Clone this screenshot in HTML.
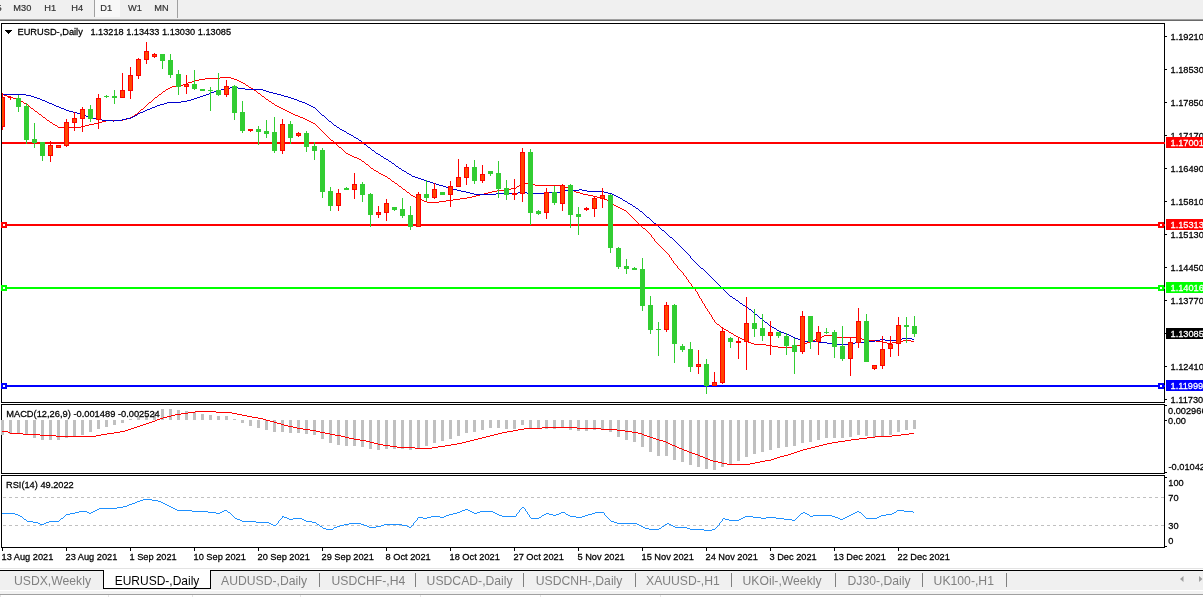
<!DOCTYPE html><html><head><meta charset="utf-8"><title>EURUSD-,Daily</title>
<style>html,body{margin:0;padding:0;background:#fff;overflow:hidden}svg{display:block}text{font-family:"Liberation Sans",sans-serif;}.t{font-size:9.25px;fill:#000;stroke:#000;stroke-width:.25px}.tb{font-size:9.25px;fill:#333;stroke:#333;stroke-width:.2px}.tab{font-size:12.2px;fill:#808080}.w{font-size:9.25px;fill:#fff;stroke:#fff;stroke-width:.25px}</style></head><body>
<svg width="1203" height="597" viewBox="0 0 1203 597">
<rect x="0" y="0" width="1203" height="597" fill="#fff"/>
<g shape-rendering="crispEdges">
<rect x="0" y="0" width="1203" height="19" fill="#f0f0f0"/>
<rect x="0" y="19" width="1203" height="1" fill="#a0a0a0"/>
<rect x="0" y="20" width="1203" height="1" fill="#696969"/>
<rect x="95" y="0" width="25" height="17" fill="#f8f8f8"/>
<rect x="94" y="0" width="1" height="17" fill="#a0a0a0"/>
<rect x="177" y="0" width="1" height="18" fill="#a0a0a0"/>
</g>
<text class="tb" transform="translate(-3.5 10.8) scale(1 1.07)">5</text>
<text class="tb" transform="translate(13.3 10.8) scale(1 1.07)">M30</text>
<text class="tb" transform="translate(44.3 10.8) scale(1 1.07)">H1</text>
<text class="tb" transform="translate(71.3 10.8) scale(1 1.07)">H4</text>
<text class="tb" transform="translate(100.3 10.8) scale(1 1.07)">D1</text>
<text class="tb" transform="translate(128 10.8) scale(1 1.07)">W1</text>
<text class="tb" transform="translate(154.3 10.8) scale(1 1.07)">MN</text>
<g shape-rendering="crispEdges">
<rect x="1" y="23" width="1" height="380" fill="#000"/>
<rect x="1" y="23" width="1164" height="1" fill="#000"/>
<rect x="1" y="402" width="1164" height="1" fill="#000"/>
<rect x="1164" y="23" width="1" height="380" fill="#000"/>
<rect x="1" y="404" width="1" height="70" fill="#000"/>
<rect x="1" y="404" width="1164" height="1" fill="#000"/>
<rect x="1" y="473" width="1164" height="1" fill="#000"/>
<rect x="1164" y="404" width="1" height="70" fill="#000"/>
<rect x="1" y="475" width="1" height="73" fill="#000"/>
<rect x="1" y="475" width="1164" height="1" fill="#000"/>
<rect x="1" y="547" width="1164" height="1" fill="#000"/>
<rect x="1164" y="475" width="1" height="73" fill="#000"/>
</g>
<clipPath id="cm"><rect x="2" y="24" width="1162" height="378"/></clipPath>
<g clip-path="url(#cm)">
<path d="M0 94h4v1h-4zM4 95h3v1h-3zM7 96h3v1h-3zM10 97h3v1h-3zM13 98h3v1h-3zM16 99h3v1h-3zM19 100h2v1h-2zM21 101h2v1h-2zM23 102h1v1h-1zM24 103h2v1h-2zM26 104h2v1h-2zM28 105h1v1h-1zM29 106h1v1h-1zM30 107h1v1h-1zM31 108h2v1h-2zM33 109h1v1h-1zM34 110h1v1h-1zM35 111h2v1h-2zM37 112h1v1h-1zM38 113h1v1h-1zM39 114h2v1h-2zM41 115h1v1h-1zM42 116h1v1h-1zM43 117h2v1h-2zM45 118h1v1h-1zM46 119h1v1h-1zM47 120h2v1h-2zM49 121h1v1h-1zM50 122h2v1h-2zM52 123h1v1h-1zM53 124h2v1h-2zM55 125h2v1h-2zM57 126h1v1h-1zM58 127h23v1h-23zM81 126h4v1h-4zM85 125h4v1h-4zM89 124h5v1h-5zM94 123h5v1h-5zM99 122h3v1h-3zM102 121h4v1h-4zM106 120h17v1h-17zM123 119h4v1h-4zM127 118h3v1h-3zM130 117h2v1h-2zM132 116h2v1h-2zM134 115h1v1h-1zM135 114h2v1h-2zM137 113h1v1h-1zM138 112h1v1h-1zM139 111h1v1h-1zM140 110h1v1h-1zM141 109h2v1h-2zM143 108h1v1h-1zM144 107h1v1h-1zM145 106h1v1h-1zM146 105h1v1h-1zM147 104h1v1h-1zM148 103h1v1h-1zM149 102h2v1h-2zM151 101h1v1h-1zM152 100h1v1h-1zM153 99h1v1h-1zM154 98h1v1h-1zM155 97h2v1h-2zM157 96h1v1h-1zM158 95h1v1h-1zM159 94h2v1h-2zM161 93h1v1h-1zM162 92h1v1h-1zM163 91h2v1h-2zM165 90h1v1h-1zM166 89h2v1h-2zM168 88h2v1h-2zM170 87h2v1h-2zM172 86h7v1h-7zM179 85h4v1h-4zM183 84h3v1h-3zM186 83h2v1h-2zM188 82h4v1h-4zM192 81h3v1h-3zM195 80h4v1h-4zM199 79h6v1h-6zM205 78h15v1h-15zM220 77h11v1h-11zM231 78h3v1h-3zM234 79h3v1h-3zM237 80h2v1h-2zM239 81h2v1h-2zM241 82h2v1h-2zM243 83h2v1h-2zM245 84h1v1h-1zM246 85h2v1h-2zM248 86h1v1h-1zM249 87h2v1h-2zM251 88h2v1h-2zM253 89h1v1h-1zM254 90h2v1h-2zM256 91h1v1h-1zM257 92h1v1h-1zM258 93h2v1h-2zM260 94h1v1h-1zM261 95h1v1h-1zM262 96h2v1h-2zM264 97h1v1h-1zM265 98h1v1h-1zM266 99h2v1h-2zM268 100h1v1h-1zM269 101h2v1h-2zM271 102h1v1h-1zM272 103h2v1h-2zM274 104h1v1h-1zM275 105h2v1h-2zM277 106h2v1h-2zM279 107h2v1h-2zM281 108h2v1h-2zM283 109h2v1h-2zM285 110h2v1h-2zM287 111h2v1h-2zM289 112h2v1h-2zM291 113h2v1h-2zM293 114h2v1h-2zM295 115h3v1h-3zM298 116h2v1h-2zM300 117h3v1h-3zM303 118h2v1h-2zM305 119h2v1h-2zM307 120h2v1h-2zM309 121h2v1h-2zM311 122h2v1h-2zM313 123h2v1h-2zM315 124h1v1h-1zM316 125h1v1h-1zM317 126h1v1h-1zM318 127h1v1h-1zM319 128h1v1h-1zM320 129h1v1h-1zM321 130h1v1h-1zM322 131h1v1h-1zM323 132h1v1h-1zM324 133h1v1h-1zM325 134h1v1h-1zM326 135h1v1h-1zM327 136h1v1h-1zM328 137h1v1h-1zM329 138h1v1h-1zM330 139h1v1h-1zM331 140h2v1h-2zM333 141h1v1h-1zM334 142h1v1h-1zM335 143h1v1h-1zM336 144h1v1h-1zM337 145h1v1h-1zM338 146h1v1h-1zM339 147h2v1h-2zM341 148h1v1h-1zM342 149h1v1h-1zM343 150h1v1h-1zM344 151h1v1h-1zM345 152h1v1h-1zM346 153h2v1h-2zM348 154h2v1h-2zM350 155h2v1h-2zM352 156h2v1h-2zM354 157h3v1h-3zM357 158h2v1h-2zM359 159h2v1h-2zM361 160h1v1h-1zM362 161h2v1h-2zM364 162h1v1h-1zM365 163h1v1h-1zM366 164h2v1h-2zM368 165h1v1h-1zM369 166h1v1h-1zM370 167h1v1h-1zM371 168h2v1h-2zM373 169h1v1h-1zM374 170h2v1h-2zM376 171h2v1h-2zM378 172h1v1h-1zM379 173h2v1h-2zM381 174h2v1h-2zM383 175h2v1h-2zM385 176h2v1h-2zM387 177h1v1h-1zM388 178h2v1h-2zM390 179h1v1h-1zM391 180h1v1h-1zM392 181h2v1h-2zM394 182h1v1h-1zM395 183h2v1h-2zM397 184h1v1h-1zM398 185h1v1h-1zM399 186h2v1h-2zM401 187h1v1h-1zM402 188h1v1h-1zM403 189h2v1h-2zM405 190h1v1h-1zM406 191h1v1h-1zM407 192h2v1h-2zM409 193h1v1h-1zM410 194h1v1h-1zM411 195h2v1h-2zM413 196h2v1h-2zM415 197h2v1h-2zM417 198h3v1h-3zM420 199h2v1h-2zM422 200h2v1h-2zM424 201h3v1h-3zM427 202h12v1h-12zM439 201h7v1h-7zM446 200h7v1h-7zM453 199h7v1h-7zM460 198h7v1h-7zM467 197h5v1h-5zM472 196h4v1h-4zM476 195h4v1h-4zM480 194h4v1h-4zM484 193h4v1h-4zM488 192h4v1h-4zM492 191h5v1h-5zM497 190h7v1h-7zM504 189h7v1h-7zM511 188h5v1h-5zM516 187h1v1h-1zM517 186h2v1h-2zM519 185h1v1h-1zM520 184h4v1h-4zM524 183h5v1h-5zM529 184h6v1h-6zM535 185h26v1h-26zM561 186h4v1h-4zM565 187h4v1h-4zM569 188h2v1h-2zM571 189h2v1h-2zM573 190h1v1h-1zM574 191h2v1h-2zM576 192h4v1h-4zM580 193h3v1h-3zM583 194h5v1h-5zM588 195h5v1h-5zM593 196h4v1h-4zM597 197h4v1h-4zM601 198h3v1h-3zM604 199h3v1h-3zM607 200h1v1h-1zM608 201h2v1h-2zM610 202h1v1h-1zM611 203h2v1h-2zM613 204h1v1h-1zM614 205h2v1h-2zM616 206h2v1h-2zM618 207h2v1h-2zM620 208h2v1h-2zM622 209h2v1h-2zM624 210h2v1h-2zM626 211h1v1h-1zM627 212h1v1h-1zM628 213h1v1h-1zM629 214h1v1h-1zM630 215h1v1h-1zM631 216h1v1h-1zM632 217h1v1h-1zM633 218h1v1h-1zM634 219h1v1h-1zM635 220h1v1h-1zM636 221h1v1h-1zM637 222h1v1h-1zM638 223h1v1h-1zM639 224h1v1h-1zM640 225h1v1h-1zM641 226h1v1h-1zM642 227h1v1h-1zM643 228h2v1h-2zM645 229h1v1h-1zM646 230h1v1h-1zM647 231h1v1h-1zM648 232h1v1h-1zM649 233h1v1h-1zM650 234h1v1h-1zM651 235h1v2h-1zM652 237h1v1h-1zM653 238h1v1h-1zM654 239h1v2h-1zM655 241h1v1h-1zM656 242h1v1h-1zM657 243h1v1h-1zM658 244h1v1h-1zM659 245h1v1h-1zM660 246h1v1h-1zM661 247h1v1h-1zM662 248h1v1h-1zM663 249h1v1h-1zM664 250h1v1h-1zM665 251h1v1h-1zM666 252h1v1h-1zM667 253h1v1h-1zM668 254h1v1h-1zM669 255h1v2h-1zM670 257h1v1h-1zM671 258h1v2h-1zM672 260h1v1h-1zM673 261h1v2h-1zM674 263h1v1h-1zM675 264h1v1h-1zM676 265h1v1h-1zM677 266h1v2h-1zM678 268h1v1h-1zM679 269h1v1h-1zM680 270h1v1h-1zM681 271h1v1h-1zM682 272h1v1h-1zM683 273h1v2h-1zM684 275h1v1h-1zM685 276h1v1h-1zM686 277h1v2h-1zM687 279h1v1h-1zM688 280h1v2h-1zM689 282h1v1h-1zM690 283h1v1h-1zM691 284h1v2h-1zM692 286h1v1h-1zM693 287h1v1h-1zM694 288h1v1h-1zM695 289h1v2h-1zM696 291h1v1h-1zM697 292h1v2h-1zM698 294h1v2h-1zM699 296h1v2h-1zM700 298h1v1h-1zM701 299h1v2h-1zM702 301h1v2h-1zM703 303h1v1h-1zM704 304h1v2h-1zM705 306h1v2h-1zM706 308h1v1h-1zM707 309h1v2h-1zM708 311h1v1h-1zM709 312h1v2h-1zM710 314h1v1h-1zM711 315h1v2h-1zM712 317h1v2h-1zM713 319h1v1h-1zM714 320h1v2h-1zM715 322h1v1h-1zM716 323h1v1h-1zM717 324h2v1h-2zM719 325h1v1h-1zM720 326h1v1h-1zM721 327h2v1h-2zM723 328h1v1h-1zM724 329h2v1h-2zM726 330h2v1h-2zM728 331h1v1h-1zM729 332h2v1h-2zM731 333h2v1h-2zM733 334h1v1h-1zM734 335h2v1h-2zM736 336h2v1h-2zM738 337h2v1h-2zM740 338h2v1h-2zM742 339h2v1h-2zM744 340h2v1h-2zM746 341h2v1h-2zM748 342h3v1h-3zM751 343h3v1h-3zM754 344h12v1h-12zM766 345h6v1h-6zM772 346h6v1h-6zM778 347h15v1h-15zM793 346h4v1h-4zM797 345h4v1h-4zM801 344h3v1h-3zM804 343h3v1h-3zM807 342h3v1h-3zM810 341h2v1h-2zM812 340h3v1h-3zM815 339h2v1h-2zM817 338h2v1h-2zM819 337h3v1h-3zM822 336h2v1h-2zM824 335h8v1h-8zM832 336h5v1h-5zM837 337h21v1h-21zM858 338h4v1h-4zM862 339h7v1h-7zM869 340h7v1h-7zM876 341h6v1h-6zM882 342h5v1h-5zM887 343h5v1h-5zM892 342h8v1h-8zM900 341h3v1h-3zM903 340h8v1h-8zM911 341h3v1h-3z" fill="#ff0000" shape-rendering="crispEdges"/>
<path d="M0 94h26v1h-26zM26 95h5v1h-5zM31 96h3v1h-3zM34 97h3v1h-3zM37 98h3v1h-3zM40 99h2v1h-2zM42 100h3v1h-3zM45 101h2v1h-2zM47 102h2v1h-2zM49 103h3v1h-3zM52 104h2v1h-2zM54 105h2v1h-2zM56 106h3v1h-3zM59 107h2v1h-2zM61 108h3v1h-3zM64 109h2v1h-2zM66 110h3v1h-3zM69 111h4v1h-4zM73 112h4v1h-4zM77 113h3v1h-3zM80 114h3v1h-3zM83 115h3v1h-3zM86 116h2v1h-2zM88 117h4v1h-4zM92 118h4v1h-4zM96 119h6v1h-6zM102 120h11v1h-11zM113 121h1v1h-1zM114 120h8v1h-8zM122 119h4v1h-4zM126 118h5v1h-5zM131 117h2v1h-2zM133 116h2v1h-2zM135 115h2v1h-2zM137 114h1v1h-1zM138 113h2v1h-2zM140 112h3v1h-3zM143 111h2v1h-2zM145 110h2v1h-2zM147 109h3v1h-3zM150 108h2v1h-2zM152 107h3v1h-3zM155 106h2v1h-2zM157 105h3v1h-3zM160 104h4v1h-4zM164 103h3v1h-3zM167 102h14v1h-14zM181 101h6v1h-6zM187 100h4v1h-4zM191 99h3v1h-3zM194 98h3v1h-3zM197 97h3v1h-3zM200 96h3v1h-3zM203 95h3v1h-3zM206 94h3v1h-3zM209 93h2v1h-2zM211 92h3v1h-3zM214 91h2v1h-2zM216 90h5v1h-5zM221 89h5v1h-5zM226 88h4v1h-4zM230 87h8v1h-8zM238 88h7v1h-7zM245 89h18v1h-18zM263 90h3v1h-3zM266 91h3v1h-3zM269 92h4v1h-4zM273 93h4v1h-4zM277 94h4v1h-4zM281 95h3v1h-3zM284 96h4v1h-4zM288 97h3v1h-3zM291 98h3v1h-3zM294 99h3v1h-3zM297 100h2v1h-2zM299 101h3v1h-3zM302 102h3v1h-3zM305 103h2v1h-2zM307 104h2v1h-2zM309 105h2v1h-2zM311 106h2v1h-2zM313 107h2v1h-2zM315 108h1v1h-1zM316 109h1v1h-1zM317 110h1v1h-1zM318 111h1v1h-1zM319 112h1v1h-1zM320 113h1v1h-1zM321 114h1v1h-1zM322 115h2v1h-2zM324 116h1v1h-1zM325 117h1v1h-1zM326 118h1v1h-1zM327 119h1v1h-1zM328 120h1v1h-1zM329 121h2v1h-2zM331 122h1v1h-1zM332 123h1v1h-1zM333 124h1v1h-1zM334 125h2v1h-2zM336 126h1v1h-1zM337 127h2v1h-2zM339 128h1v1h-1zM340 129h2v1h-2zM342 130h2v1h-2zM344 131h2v1h-2zM346 132h1v1h-1zM347 133h2v1h-2zM349 134h2v1h-2zM351 135h2v1h-2zM353 136h1v1h-1zM354 137h2v1h-2zM356 138h2v1h-2zM358 139h1v1h-1zM359 140h2v1h-2zM361 141h1v1h-1zM362 142h1v1h-1zM363 143h1v1h-1zM364 144h2v1h-2zM366 145h1v1h-1zM367 146h1v1h-1zM368 147h2v1h-2zM370 148h1v1h-1zM371 149h1v1h-1zM372 150h2v1h-2zM374 151h1v1h-1zM375 152h1v1h-1zM376 153h2v1h-2zM378 154h2v1h-2zM380 155h1v1h-1zM381 156h2v1h-2zM383 157h1v1h-1zM384 158h2v1h-2zM386 159h2v1h-2zM388 160h1v1h-1zM389 161h2v1h-2zM391 162h1v1h-1zM392 163h2v1h-2zM394 164h1v1h-1zM395 165h1v1h-1zM396 166h2v1h-2zM398 167h1v1h-1zM399 168h2v1h-2zM401 169h1v1h-1zM402 170h2v1h-2zM404 171h2v1h-2zM406 172h1v1h-1zM407 173h2v1h-2zM409 174h2v1h-2zM411 175h1v1h-1zM412 176h3v1h-3zM415 177h3v1h-3zM418 178h3v1h-3zM421 179h3v1h-3zM424 180h3v1h-3zM427 181h3v1h-3zM430 182h3v1h-3zM433 183h3v1h-3zM436 184h3v1h-3zM439 185h4v1h-4zM443 186h3v1h-3zM446 187h4v1h-4zM450 188h3v1h-3zM453 189h4v1h-4zM457 190h4v1h-4zM461 191h5v1h-5zM466 192h4v1h-4zM470 193h4v1h-4zM474 194h22v1h-22zM496 193h22v1h-22zM518 192h9v1h-9zM527 193h17v1h-17zM544 192h17v1h-17zM561 191h4v1h-4zM565 190h14v1h-14zM579 189h3v1h-3zM582 190h5v1h-5zM587 191h17v1h-17zM604 192h4v1h-4zM608 193h4v1h-4zM612 194h2v1h-2zM614 195h2v1h-2zM616 196h2v1h-2zM618 197h2v1h-2zM620 198h2v1h-2zM622 199h1v1h-1zM623 200h2v1h-2zM625 201h2v1h-2zM627 202h1v1h-1zM628 203h2v1h-2zM630 204h2v1h-2zM632 205h1v1h-1zM633 206h2v1h-2zM635 207h1v1h-1zM636 208h2v1h-2zM638 209h1v1h-1zM639 210h1v1h-1zM640 211h2v1h-2zM642 212h1v1h-1zM643 213h1v1h-1zM644 214h1v1h-1zM645 215h1v1h-1zM646 216h1v1h-1zM647 217h2v1h-2zM649 218h1v1h-1zM650 219h1v1h-1zM651 220h1v1h-1zM652 221h1v1h-1zM653 222h1v1h-1zM654 223h2v1h-2zM656 224h1v1h-1zM657 225h1v1h-1zM658 226h1v1h-1zM659 227h1v1h-1zM660 228h1v1h-1zM661 229h1v1h-1zM662 230h2v1h-2zM664 231h1v1h-1zM665 232h1v1h-1zM666 233h1v1h-1zM667 234h1v1h-1zM668 235h1v1h-1zM669 236h1v1h-1zM670 237h2v1h-2zM672 238h1v1h-1zM673 239h1v1h-1zM674 240h1v1h-1zM675 241h1v1h-1zM676 242h1v1h-1zM677 243h1v1h-1zM678 244h1v1h-1zM679 245h1v1h-1zM680 246h1v1h-1zM681 247h1v1h-1zM682 248h1v1h-1zM683 249h1v1h-1zM684 250h1v1h-1zM685 251h1v1h-1zM686 252h1v1h-1zM687 253h1v1h-1zM688 254h1v1h-1zM689 255h1v1h-1zM690 256h1v2h-1zM691 258h1v1h-1zM692 259h1v1h-1zM693 260h1v1h-1zM694 261h1v1h-1zM695 262h1v1h-1zM696 263h1v1h-1zM697 264h1v1h-1zM698 265h1v1h-1zM699 266h1v1h-1zM700 267h1v1h-1zM701 268h2v1h-2zM703 269h1v1h-1zM704 270h1v1h-1zM705 271h1v1h-1zM706 272h1v1h-1zM707 273h1v1h-1zM708 274h1v1h-1zM709 275h1v1h-1zM710 276h1v1h-1zM711 277h1v1h-1zM712 278h1v1h-1zM713 279h1v1h-1zM714 280h1v1h-1zM715 281h1v1h-1zM716 282h1v1h-1zM717 283h1v1h-1zM718 284h1v1h-1zM719 285h1v1h-1zM720 286h1v1h-1zM721 287h1v1h-1zM722 288h1v1h-1zM723 289h1v1h-1zM724 290h1v1h-1zM725 291h1v1h-1zM726 292h1v1h-1zM727 293h1v1h-1zM728 294h1v1h-1zM729 295h1v1h-1zM730 296h2v1h-2zM732 297h1v1h-1zM733 298h2v1h-2zM735 299h1v1h-1zM736 300h2v1h-2zM738 301h1v1h-1zM739 302h1v1h-1zM740 303h2v1h-2zM742 304h1v1h-1zM743 305h2v1h-2zM745 306h1v1h-1zM746 307h2v1h-2zM748 308h1v1h-1zM749 309h2v1h-2zM751 310h1v1h-1zM752 311h1v1h-1zM753 312h1v1h-1zM754 313h1v1h-1zM755 314h2v1h-2zM757 315h1v1h-1zM758 316h1v1h-1zM759 317h1v1h-1zM760 318h2v1h-2zM762 319h1v1h-1zM763 320h1v1h-1zM764 321h1v1h-1zM765 322h2v1h-2zM767 323h1v1h-1zM768 324h1v1h-1zM769 325h1v1h-1zM770 326h2v1h-2zM772 327h2v1h-2zM774 328h2v1h-2zM776 329h1v1h-1zM777 330h2v1h-2zM779 331h2v1h-2zM781 332h3v1h-3zM784 333h3v1h-3zM787 334h2v1h-2zM789 335h2v1h-2zM791 336h2v1h-2zM793 337h2v1h-2zM795 338h3v1h-3zM798 339h3v1h-3zM801 340h3v1h-3zM804 341h15v1h-15zM819 342h8v1h-8zM827 343h8v1h-8zM835 344h14v1h-14zM849 343h6v1h-6zM855 342h14v1h-14zM869 341h6v1h-6zM875 340h5v1h-5zM880 339h5v1h-5zM885 340h11v1h-11zM896 339h6v1h-6zM902 338h10v1h-10zM912 339h2v1h-2z" fill="#0000cd" shape-rendering="crispEdges"/>
</g>
<g shape-rendering="crispEdges">
<rect x="2" y="142" width="1163" height="2" fill="#ff0000"/>
<rect x="2" y="224" width="1163" height="2" fill="#ff0000"/>
<rect x="1" y="222" width="6" height="6" fill="#ff0000"/>
<rect x="3" y="224" width="2" height="2" fill="#fff"/>
<rect x="1158" y="222" width="6" height="6" fill="#ff0000"/>
<rect x="1160" y="224" width="2" height="2" fill="#fff"/>
<rect x="2" y="287" width="1163" height="2" fill="#00ff00"/>
<rect x="1" y="285" width="6" height="6" fill="#00ff00"/>
<rect x="3" y="287" width="2" height="2" fill="#fff"/>
<rect x="1158" y="285" width="6" height="6" fill="#00ff00"/>
<rect x="1160" y="287" width="2" height="2" fill="#fff"/>
<rect x="2" y="385" width="1163" height="2" fill="#0000ff"/>
<rect x="1" y="383" width="6" height="6" fill="#0000ff"/>
<rect x="3" y="385" width="2" height="2" fill="#fff"/>
<rect x="1158" y="383" width="6" height="6" fill="#0000ff"/>
<rect x="1160" y="385" width="2" height="2" fill="#fff"/>
</g>
<g clip-path="url(#cm)">
<g shape-rendering="crispEdges">
<rect x="2" y="93" width="1" height="37" fill="#ff0000"/>
<rect x="0" y="97" width="5" height="30" fill="#ff0000"/>
<rect x="1" y="98" width="3" height="28" fill="#ff4500"/>
<rect x="10" y="96" width="1" height="4" fill="#ff0000"/>
<rect x="8" y="97" width="5" height="1" fill="#ff0000"/>
<rect x="18" y="95" width="1" height="17" fill="#32cd32"/>
<rect x="16" y="98" width="5" height="9" fill="#32cd32"/>
<rect x="26" y="103" width="1" height="41" fill="#32cd32"/>
<rect x="24" y="106" width="5" height="34" fill="#32cd32"/>
<rect x="34" y="123" width="1" height="25" fill="#32cd32"/>
<rect x="32" y="139" width="5" height="4" fill="#32cd32"/>
<rect x="42" y="142" width="1" height="19" fill="#32cd32"/>
<rect x="40" y="142" width="5" height="14" fill="#32cd32"/>
<rect x="50" y="141" width="1" height="21" fill="#ff0000"/>
<rect x="48" y="145" width="5" height="11" fill="#ff0000"/>
<rect x="49" y="146" width="3" height="9" fill="#ff4500"/>
<rect x="58" y="145" width="1" height="3" fill="#ff0000"/>
<rect x="56" y="145" width="5" height="3" fill="#ff0000"/>
<rect x="57" y="146" width="3" height="1" fill="#ff4500"/>
<rect x="66" y="119" width="1" height="28" fill="#ff0000"/>
<rect x="64" y="122" width="5" height="24" fill="#ff0000"/>
<rect x="65" y="123" width="3" height="22" fill="#ff4500"/>
<rect x="74" y="112" width="1" height="19" fill="#ff0000"/>
<rect x="72" y="118" width="5" height="5" fill="#ff0000"/>
<rect x="73" y="119" width="3" height="3" fill="#ff4500"/>
<rect x="82" y="107" width="1" height="25" fill="#ff0000"/>
<rect x="80" y="109" width="5" height="10" fill="#ff0000"/>
<rect x="81" y="110" width="3" height="8" fill="#ff4500"/>
<rect x="90" y="105" width="1" height="17" fill="#32cd32"/>
<rect x="88" y="109" width="5" height="10" fill="#32cd32"/>
<rect x="98" y="94" width="1" height="35" fill="#ff0000"/>
<rect x="96" y="98" width="5" height="22" fill="#ff0000"/>
<rect x="97" y="99" width="3" height="20" fill="#ff4500"/>
<rect x="106" y="95" width="1" height="3" fill="#32cd32"/>
<rect x="104" y="96" width="5" height="1" fill="#32cd32"/>
<rect x="114" y="90" width="1" height="14" fill="#32cd32"/>
<rect x="112" y="96" width="5" height="2" fill="#32cd32"/>
<rect x="122" y="73" width="1" height="25" fill="#ff0000"/>
<rect x="120" y="90" width="5" height="8" fill="#ff0000"/>
<rect x="121" y="91" width="3" height="6" fill="#ff4500"/>
<rect x="130" y="67" width="1" height="32" fill="#ff0000"/>
<rect x="128" y="75" width="5" height="16" fill="#ff0000"/>
<rect x="129" y="76" width="3" height="14" fill="#ff4500"/>
<rect x="138" y="58" width="1" height="21" fill="#ff0000"/>
<rect x="136" y="59" width="5" height="17" fill="#ff0000"/>
<rect x="137" y="60" width="3" height="15" fill="#ff4500"/>
<rect x="146" y="42" width="1" height="22" fill="#ff0000"/>
<rect x="144" y="51" width="5" height="9" fill="#ff0000"/>
<rect x="145" y="52" width="3" height="7" fill="#ff4500"/>
<rect x="154" y="53" width="1" height="5" fill="#ff0000"/>
<rect x="152" y="54" width="5" height="3" fill="#ff0000"/>
<rect x="153" y="55" width="3" height="1" fill="#ff4500"/>
<rect x="162" y="54" width="1" height="15" fill="#32cd32"/>
<rect x="160" y="54" width="5" height="7" fill="#32cd32"/>
<rect x="170" y="54" width="1" height="24" fill="#32cd32"/>
<rect x="168" y="60" width="5" height="15" fill="#32cd32"/>
<rect x="178" y="70" width="1" height="25" fill="#32cd32"/>
<rect x="176" y="74" width="5" height="13" fill="#32cd32"/>
<rect x="186" y="75" width="1" height="19" fill="#ff0000"/>
<rect x="184" y="84" width="5" height="3" fill="#ff0000"/>
<rect x="185" y="85" width="3" height="1" fill="#ff4500"/>
<rect x="194" y="70" width="1" height="20" fill="#32cd32"/>
<rect x="192" y="84" width="5" height="5" fill="#32cd32"/>
<rect x="202" y="89" width="1" height="2" fill="#32cd32"/>
<rect x="200" y="89" width="5" height="2" fill="#32cd32"/>
<rect x="210" y="87" width="1" height="24" fill="#32cd32"/>
<rect x="208" y="90" width="5" height="1" fill="#32cd32"/>
<rect x="218" y="73" width="1" height="23" fill="#32cd32"/>
<rect x="216" y="90" width="5" height="5" fill="#32cd32"/>
<rect x="226" y="80" width="1" height="17" fill="#ff0000"/>
<rect x="224" y="86" width="5" height="9" fill="#ff0000"/>
<rect x="225" y="87" width="3" height="7" fill="#ff4500"/>
<rect x="234" y="85" width="1" height="35" fill="#32cd32"/>
<rect x="232" y="86" width="5" height="27" fill="#32cd32"/>
<rect x="242" y="101" width="1" height="32" fill="#32cd32"/>
<rect x="240" y="112" width="5" height="19" fill="#32cd32"/>
<rect x="250" y="129" width="1" height="3" fill="#ff0000"/>
<rect x="248" y="129" width="5" height="2" fill="#ff0000"/>
<rect x="258" y="126" width="1" height="19" fill="#32cd32"/>
<rect x="256" y="129" width="5" height="3" fill="#32cd32"/>
<rect x="266" y="120" width="1" height="18" fill="#32cd32"/>
<rect x="264" y="131" width="5" height="3" fill="#32cd32"/>
<rect x="274" y="117" width="1" height="36" fill="#32cd32"/>
<rect x="272" y="132" width="5" height="19" fill="#32cd32"/>
<rect x="282" y="119" width="1" height="35" fill="#ff0000"/>
<rect x="280" y="124" width="5" height="27" fill="#ff0000"/>
<rect x="281" y="125" width="3" height="25" fill="#ff4500"/>
<rect x="290" y="121" width="1" height="23" fill="#32cd32"/>
<rect x="288" y="124" width="5" height="14" fill="#32cd32"/>
<rect x="298" y="132" width="1" height="5" fill="#ff0000"/>
<rect x="296" y="133" width="5" height="3" fill="#ff0000"/>
<rect x="297" y="134" width="3" height="1" fill="#ff4500"/>
<rect x="306" y="131" width="1" height="21" fill="#32cd32"/>
<rect x="304" y="133" width="5" height="14" fill="#32cd32"/>
<rect x="314" y="142" width="1" height="18" fill="#32cd32"/>
<rect x="312" y="146" width="5" height="5" fill="#32cd32"/>
<rect x="322" y="148" width="1" height="50" fill="#32cd32"/>
<rect x="320" y="150" width="5" height="42" fill="#32cd32"/>
<rect x="330" y="187" width="1" height="24" fill="#32cd32"/>
<rect x="328" y="191" width="5" height="15" fill="#32cd32"/>
<rect x="338" y="189" width="1" height="22" fill="#ff0000"/>
<rect x="336" y="193" width="5" height="13" fill="#ff0000"/>
<rect x="337" y="194" width="3" height="11" fill="#ff4500"/>
<rect x="346" y="187" width="1" height="3" fill="#32cd32"/>
<rect x="344" y="188" width="5" height="2" fill="#32cd32"/>
<rect x="354" y="173" width="1" height="26" fill="#ff0000"/>
<rect x="352" y="184" width="5" height="6" fill="#ff0000"/>
<rect x="353" y="185" width="3" height="4" fill="#ff4500"/>
<rect x="362" y="182" width="1" height="20" fill="#32cd32"/>
<rect x="360" y="184" width="5" height="11" fill="#32cd32"/>
<rect x="370" y="193" width="1" height="34" fill="#32cd32"/>
<rect x="368" y="194" width="5" height="21" fill="#32cd32"/>
<rect x="378" y="206" width="1" height="12" fill="#ff0000"/>
<rect x="376" y="212" width="5" height="3" fill="#ff0000"/>
<rect x="377" y="213" width="3" height="1" fill="#ff4500"/>
<rect x="386" y="199" width="1" height="22" fill="#ff0000"/>
<rect x="384" y="203" width="5" height="10" fill="#ff0000"/>
<rect x="385" y="204" width="3" height="8" fill="#ff4500"/>
<rect x="394" y="207" width="1" height="4" fill="#32cd32"/>
<rect x="392" y="207" width="5" height="3" fill="#32cd32"/>
<rect x="402" y="198" width="1" height="20" fill="#32cd32"/>
<rect x="400" y="209" width="5" height="7" fill="#32cd32"/>
<rect x="410" y="206" width="1" height="24" fill="#32cd32"/>
<rect x="408" y="215" width="5" height="12" fill="#32cd32"/>
<rect x="418" y="192" width="1" height="35" fill="#ff0000"/>
<rect x="416" y="194" width="5" height="33" fill="#ff0000"/>
<rect x="417" y="195" width="3" height="31" fill="#ff4500"/>
<rect x="426" y="180" width="1" height="21" fill="#32cd32"/>
<rect x="424" y="194" width="5" height="4" fill="#32cd32"/>
<rect x="434" y="183" width="1" height="16" fill="#ff0000"/>
<rect x="432" y="189" width="5" height="9" fill="#ff0000"/>
<rect x="433" y="190" width="3" height="7" fill="#ff4500"/>
<rect x="442" y="192" width="1" height="3" fill="#32cd32"/>
<rect x="440" y="192" width="5" height="3" fill="#32cd32"/>
<rect x="450" y="181" width="1" height="26" fill="#ff0000"/>
<rect x="448" y="186" width="5" height="9" fill="#ff0000"/>
<rect x="449" y="187" width="3" height="7" fill="#ff4500"/>
<rect x="458" y="159" width="1" height="28" fill="#ff0000"/>
<rect x="456" y="177" width="5" height="10" fill="#ff0000"/>
<rect x="457" y="178" width="3" height="8" fill="#ff4500"/>
<rect x="466" y="164" width="1" height="21" fill="#ff0000"/>
<rect x="464" y="167" width="5" height="11" fill="#ff0000"/>
<rect x="465" y="168" width="3" height="9" fill="#ff4500"/>
<rect x="474" y="160" width="1" height="24" fill="#32cd32"/>
<rect x="472" y="167" width="5" height="14" fill="#32cd32"/>
<rect x="482" y="165" width="1" height="18" fill="#ff0000"/>
<rect x="480" y="174" width="5" height="7" fill="#ff0000"/>
<rect x="481" y="175" width="3" height="5" fill="#ff4500"/>
<rect x="490" y="171" width="1" height="5" fill="#32cd32"/>
<rect x="488" y="171" width="5" height="3" fill="#32cd32"/>
<rect x="498" y="161" width="1" height="37" fill="#32cd32"/>
<rect x="496" y="173" width="5" height="16" fill="#32cd32"/>
<rect x="506" y="180" width="1" height="20" fill="#32cd32"/>
<rect x="504" y="188" width="5" height="7" fill="#32cd32"/>
<rect x="514" y="179" width="1" height="21" fill="#ff0000"/>
<rect x="512" y="193" width="5" height="2" fill="#ff0000"/>
<rect x="522" y="148" width="1" height="54" fill="#ff0000"/>
<rect x="520" y="152" width="5" height="42" fill="#ff0000"/>
<rect x="521" y="153" width="3" height="40" fill="#ff4500"/>
<rect x="530" y="149" width="1" height="76" fill="#32cd32"/>
<rect x="528" y="152" width="5" height="61" fill="#32cd32"/>
<rect x="538" y="210" width="1" height="5" fill="#32cd32"/>
<rect x="536" y="211" width="5" height="3" fill="#32cd32"/>
<rect x="546" y="188" width="1" height="31" fill="#ff0000"/>
<rect x="544" y="192" width="5" height="21" fill="#ff0000"/>
<rect x="545" y="193" width="3" height="19" fill="#ff4500"/>
<rect x="554" y="186" width="1" height="19" fill="#32cd32"/>
<rect x="552" y="192" width="5" height="11" fill="#32cd32"/>
<rect x="562" y="184" width="1" height="27" fill="#ff0000"/>
<rect x="560" y="185" width="5" height="19" fill="#ff0000"/>
<rect x="561" y="186" width="3" height="17" fill="#ff4500"/>
<rect x="570" y="184" width="1" height="44" fill="#32cd32"/>
<rect x="568" y="185" width="5" height="30" fill="#32cd32"/>
<rect x="578" y="207" width="1" height="28" fill="#32cd32"/>
<rect x="576" y="214" width="5" height="3" fill="#32cd32"/>
<rect x="586" y="207" width="1" height="4" fill="#ff0000"/>
<rect x="584" y="208" width="5" height="2" fill="#ff0000"/>
<rect x="594" y="196" width="1" height="21" fill="#ff0000"/>
<rect x="592" y="198" width="5" height="11" fill="#ff0000"/>
<rect x="593" y="199" width="3" height="9" fill="#ff4500"/>
<rect x="602" y="188" width="1" height="20" fill="#ff0000"/>
<rect x="600" y="195" width="5" height="4" fill="#ff0000"/>
<rect x="601" y="196" width="3" height="2" fill="#ff4500"/>
<rect x="610" y="194" width="1" height="59" fill="#32cd32"/>
<rect x="608" y="195" width="5" height="53" fill="#32cd32"/>
<rect x="618" y="247" width="1" height="22" fill="#32cd32"/>
<rect x="616" y="248" width="5" height="19" fill="#32cd32"/>
<rect x="626" y="259" width="1" height="15" fill="#32cd32"/>
<rect x="624" y="266" width="5" height="3" fill="#32cd32"/>
<rect x="634" y="267" width="1" height="3" fill="#32cd32"/>
<rect x="632" y="268" width="5" height="2" fill="#32cd32"/>
<rect x="642" y="258" width="1" height="53" fill="#32cd32"/>
<rect x="640" y="269" width="5" height="37" fill="#32cd32"/>
<rect x="650" y="296" width="1" height="38" fill="#32cd32"/>
<rect x="648" y="305" width="5" height="25" fill="#32cd32"/>
<rect x="658" y="322" width="1" height="34" fill="#32cd32"/>
<rect x="656" y="329" width="5" height="1" fill="#32cd32"/>
<rect x="666" y="302" width="1" height="30" fill="#ff0000"/>
<rect x="664" y="305" width="5" height="25" fill="#ff0000"/>
<rect x="665" y="306" width="3" height="23" fill="#ff4500"/>
<rect x="674" y="304" width="1" height="59" fill="#32cd32"/>
<rect x="672" y="305" width="5" height="39" fill="#32cd32"/>
<rect x="682" y="344" width="1" height="8" fill="#32cd32"/>
<rect x="680" y="346" width="5" height="4" fill="#32cd32"/>
<rect x="690" y="342" width="1" height="30" fill="#32cd32"/>
<rect x="688" y="349" width="5" height="18" fill="#32cd32"/>
<rect x="698" y="350" width="1" height="24" fill="#ff0000"/>
<rect x="696" y="364" width="5" height="3" fill="#ff0000"/>
<rect x="697" y="365" width="3" height="1" fill="#ff4500"/>
<rect x="706" y="359" width="1" height="35" fill="#32cd32"/>
<rect x="704" y="364" width="5" height="22" fill="#32cd32"/>
<rect x="714" y="372" width="1" height="14" fill="#ff0000"/>
<rect x="712" y="382" width="5" height="4" fill="#ff0000"/>
<rect x="713" y="383" width="3" height="2" fill="#ff4500"/>
<rect x="722" y="327" width="1" height="57" fill="#ff0000"/>
<rect x="720" y="331" width="5" height="52" fill="#ff0000"/>
<rect x="721" y="332" width="3" height="50" fill="#ff4500"/>
<rect x="730" y="337" width="1" height="11" fill="#32cd32"/>
<rect x="728" y="338" width="5" height="4" fill="#32cd32"/>
<rect x="738" y="337" width="1" height="22" fill="#ff0000"/>
<rect x="736" y="341" width="5" height="2" fill="#ff0000"/>
<rect x="746" y="297" width="1" height="73" fill="#ff0000"/>
<rect x="744" y="323" width="5" height="19" fill="#ff0000"/>
<rect x="745" y="324" width="3" height="17" fill="#ff4500"/>
<rect x="754" y="309" width="1" height="28" fill="#32cd32"/>
<rect x="752" y="323" width="5" height="6" fill="#32cd32"/>
<rect x="762" y="314" width="1" height="27" fill="#32cd32"/>
<rect x="760" y="328" width="5" height="8" fill="#32cd32"/>
<rect x="770" y="321" width="1" height="34" fill="#ff0000"/>
<rect x="768" y="332" width="5" height="4" fill="#ff0000"/>
<rect x="769" y="333" width="3" height="2" fill="#ff4500"/>
<rect x="778" y="332" width="1" height="6" fill="#32cd32"/>
<rect x="776" y="332" width="5" height="4" fill="#32cd32"/>
<rect x="786" y="333" width="1" height="22" fill="#32cd32"/>
<rect x="784" y="336" width="5" height="10" fill="#32cd32"/>
<rect x="794" y="338" width="1" height="36" fill="#32cd32"/>
<rect x="792" y="345" width="5" height="7" fill="#32cd32"/>
<rect x="802" y="311" width="1" height="43" fill="#ff0000"/>
<rect x="800" y="316" width="5" height="36" fill="#ff0000"/>
<rect x="801" y="317" width="3" height="34" fill="#ff4500"/>
<rect x="810" y="316" width="1" height="33" fill="#32cd32"/>
<rect x="808" y="316" width="5" height="26" fill="#32cd32"/>
<rect x="818" y="326" width="1" height="29" fill="#ff0000"/>
<rect x="816" y="332" width="5" height="10" fill="#ff0000"/>
<rect x="817" y="333" width="3" height="8" fill="#ff4500"/>
<rect x="826" y="328" width="1" height="6" fill="#32cd32"/>
<rect x="824" y="332" width="5" height="1" fill="#32cd32"/>
<rect x="834" y="330" width="1" height="28" fill="#32cd32"/>
<rect x="832" y="332" width="5" height="15" fill="#32cd32"/>
<rect x="842" y="326" width="1" height="35" fill="#32cd32"/>
<rect x="840" y="346" width="5" height="13" fill="#32cd32"/>
<rect x="850" y="338" width="1" height="38" fill="#ff0000"/>
<rect x="848" y="342" width="5" height="17" fill="#ff0000"/>
<rect x="849" y="343" width="3" height="15" fill="#ff4500"/>
<rect x="858" y="308" width="1" height="40" fill="#ff0000"/>
<rect x="856" y="321" width="5" height="22" fill="#ff0000"/>
<rect x="857" y="322" width="3" height="20" fill="#ff4500"/>
<rect x="866" y="314" width="1" height="48" fill="#32cd32"/>
<rect x="864" y="321" width="5" height="41" fill="#32cd32"/>
<rect x="874" y="365" width="1" height="5" fill="#ff0000"/>
<rect x="872" y="365" width="5" height="4" fill="#ff0000"/>
<rect x="873" y="366" width="3" height="2" fill="#ff4500"/>
<rect x="882" y="336" width="1" height="33" fill="#ff0000"/>
<rect x="880" y="349" width="5" height="17" fill="#ff0000"/>
<rect x="881" y="350" width="3" height="15" fill="#ff4500"/>
<rect x="890" y="336" width="1" height="21" fill="#ff0000"/>
<rect x="888" y="344" width="5" height="5" fill="#ff0000"/>
<rect x="889" y="345" width="3" height="3" fill="#ff4500"/>
<rect x="898" y="317" width="1" height="39" fill="#ff0000"/>
<rect x="896" y="325" width="5" height="19" fill="#ff0000"/>
<rect x="897" y="326" width="3" height="17" fill="#ff4500"/>
<rect x="906" y="317" width="1" height="26" fill="#32cd32"/>
<rect x="904" y="325" width="5" height="2" fill="#32cd32"/>
<rect x="914" y="316" width="1" height="21" fill="#32cd32"/>
<rect x="912" y="326" width="5" height="8" fill="#32cd32"/>
</g>
</g>
<g shape-rendering="crispEdges">
<rect x="1165" y="36" width="2" height="1" fill="#000"/>
<rect x="1165" y="69" width="2" height="1" fill="#000"/>
<rect x="1165" y="102" width="2" height="1" fill="#000"/>
<rect x="1165" y="135" width="2" height="1" fill="#000"/>
<rect x="1165" y="168" width="2" height="1" fill="#000"/>
<rect x="1165" y="201" width="2" height="1" fill="#000"/>
<rect x="1165" y="234" width="2" height="1" fill="#000"/>
<rect x="1165" y="267" width="2" height="1" fill="#000"/>
<rect x="1165" y="300" width="2" height="1" fill="#000"/>
<rect x="1165" y="333" width="2" height="1" fill="#000"/>
<rect x="1165" y="366" width="2" height="1" fill="#000"/>
<rect x="1165" y="399" width="2" height="1" fill="#000"/>
</g>
<text class="t" transform="translate(1170.5 39.9) scale(1 1.07)">1.19210</text>
<text class="t" transform="translate(1170.5 72.9) scale(1 1.07)">1.18530</text>
<text class="t" transform="translate(1170.5 105.9) scale(1 1.07)">1.17850</text>
<text class="t" transform="translate(1170.5 138.9) scale(1 1.07)">1.17170</text>
<text class="t" transform="translate(1170.5 171.9) scale(1 1.07)">1.16490</text>
<text class="t" transform="translate(1170.5 204.9) scale(1 1.07)">1.15810</text>
<text class="t" transform="translate(1170.5 237.9) scale(1 1.07)">1.15130</text>
<text class="t" transform="translate(1170.5 270.9) scale(1 1.07)">1.14450</text>
<text class="t" transform="translate(1170.5 303.9) scale(1 1.07)">1.13770</text>
<text class="t" transform="translate(1170.5 336.9) scale(1 1.07)">1.13090</text>
<text class="t" transform="translate(1170.5 369.9) scale(1 1.07)">1.12410</text>
<text class="t" transform="translate(1170.5 402.9) scale(1 1.07)">1.11730</text>
<rect x="1166" y="137" width="37" height="11" fill="#ff0000" shape-rendering="crispEdges"/>
<text class="w" transform="translate(1170.5 145.8) scale(1 1.07)">1.17001</text>
<rect x="1166" y="219" width="37" height="11" fill="#ff0000" shape-rendering="crispEdges"/>
<text class="w" transform="translate(1170.5 227.8) scale(1 1.07)">1.15313</text>
<rect x="1166" y="282" width="37" height="11" fill="#00ff00" shape-rendering="crispEdges"/>
<text class="w" transform="translate(1170.5 290.8) scale(1 1.07)">1.14016</text>
<rect x="1166" y="328" width="37" height="11" fill="#000000" shape-rendering="crispEdges"/>
<text class="w" transform="translate(1170.5 336.8) scale(1 1.07)">1.13085</text>
<rect x="1166" y="380" width="37" height="11" fill="#0000ff" shape-rendering="crispEdges"/>
<text class="w" transform="translate(1170.5 388.8) scale(1 1.07)">1.11999</text>
<path d="M5 30h7v1h-1v1h-1v1h-1v1h-1v-1h-1v-1h-1v-1h-1z" fill="#000" shape-rendering="crispEdges"/>
<text class="t" transform="translate(17.5 35) scale(1 1.07)" textLength="65.3" lengthAdjust="spacingAndGlyphs">EURUSD-,Daily</text>
<text class="t" transform="translate(90.4 35) scale(1 1.07)" textLength="140.6" lengthAdjust="spacingAndGlyphs">1.13218 1.13433 1.13030 1.13085</text>
<g shape-rendering="crispEdges">
<rect x="1" y="420" width="3" height="15" fill="#c0c0c0"/>
<rect x="9" y="420" width="3" height="14" fill="#c0c0c0"/>
<rect x="17" y="420" width="3" height="14" fill="#c0c0c0"/>
<rect x="25" y="420" width="3" height="15" fill="#c0c0c0"/>
<rect x="33" y="420" width="3" height="18" fill="#c0c0c0"/>
<rect x="41" y="420" width="3" height="20" fill="#c0c0c0"/>
<rect x="49" y="420" width="3" height="20" fill="#c0c0c0"/>
<rect x="57" y="420" width="3" height="20" fill="#c0c0c0"/>
<rect x="65" y="420" width="3" height="18" fill="#c0c0c0"/>
<rect x="73" y="420" width="3" height="17" fill="#c0c0c0"/>
<rect x="81" y="420" width="3" height="15" fill="#c0c0c0"/>
<rect x="89" y="420" width="3" height="12" fill="#c0c0c0"/>
<rect x="97" y="420" width="3" height="9" fill="#c0c0c0"/>
<rect x="105" y="420" width="3" height="7" fill="#c0c0c0"/>
<rect x="113" y="420" width="3" height="5" fill="#c0c0c0"/>
<rect x="121" y="420" width="3" height="3" fill="#c0c0c0"/>
<rect x="129" y="419" width="3" height="1" fill="#c0c0c0"/>
<rect x="137" y="417" width="3" height="3" fill="#c0c0c0"/>
<rect x="145" y="415" width="3" height="5" fill="#c0c0c0"/>
<rect x="153" y="412" width="3" height="8" fill="#c0c0c0"/>
<rect x="161" y="409" width="3" height="11" fill="#c0c0c0"/>
<rect x="169" y="409" width="3" height="11" fill="#c0c0c0"/>
<rect x="177" y="410" width="3" height="10" fill="#c0c0c0"/>
<rect x="185" y="411" width="3" height="9" fill="#c0c0c0"/>
<rect x="193" y="412" width="3" height="8" fill="#c0c0c0"/>
<rect x="201" y="414" width="3" height="6" fill="#c0c0c0"/>
<rect x="209" y="415" width="3" height="5" fill="#c0c0c0"/>
<rect x="217" y="416" width="3" height="4" fill="#c0c0c0"/>
<rect x="225" y="416" width="3" height="4" fill="#c0c0c0"/>
<rect x="233" y="419" width="3" height="1" fill="#c0c0c0"/>
<rect x="241" y="420" width="3" height="3" fill="#c0c0c0"/>
<rect x="249" y="420" width="3" height="6" fill="#c0c0c0"/>
<rect x="257" y="420" width="3" height="8" fill="#c0c0c0"/>
<rect x="265" y="420" width="3" height="10" fill="#c0c0c0"/>
<rect x="273" y="420" width="3" height="12" fill="#c0c0c0"/>
<rect x="281" y="420" width="3" height="12" fill="#c0c0c0"/>
<rect x="289" y="420" width="3" height="13" fill="#c0c0c0"/>
<rect x="297" y="420" width="3" height="13" fill="#c0c0c0"/>
<rect x="305" y="420" width="3" height="14" fill="#c0c0c0"/>
<rect x="313" y="420" width="3" height="15" fill="#c0c0c0"/>
<rect x="321" y="420" width="3" height="19" fill="#c0c0c0"/>
<rect x="329" y="420" width="3" height="23" fill="#c0c0c0"/>
<rect x="337" y="420" width="3" height="25" fill="#c0c0c0"/>
<rect x="345" y="420" width="3" height="26" fill="#c0c0c0"/>
<rect x="353" y="420" width="3" height="26" fill="#c0c0c0"/>
<rect x="361" y="420" width="3" height="27" fill="#c0c0c0"/>
<rect x="369" y="420" width="3" height="29" fill="#c0c0c0"/>
<rect x="377" y="420" width="3" height="30" fill="#c0c0c0"/>
<rect x="385" y="420" width="3" height="29" fill="#c0c0c0"/>
<rect x="393" y="420" width="3" height="29" fill="#c0c0c0"/>
<rect x="401" y="420" width="3" height="29" fill="#c0c0c0"/>
<rect x="409" y="420" width="3" height="30" fill="#c0c0c0"/>
<rect x="417" y="420" width="3" height="29" fill="#c0c0c0"/>
<rect x="425" y="420" width="3" height="26" fill="#c0c0c0"/>
<rect x="433" y="420" width="3" height="23" fill="#c0c0c0"/>
<rect x="441" y="420" width="3" height="21" fill="#c0c0c0"/>
<rect x="449" y="420" width="3" height="19" fill="#c0c0c0"/>
<rect x="457" y="420" width="3" height="16" fill="#c0c0c0"/>
<rect x="465" y="420" width="3" height="13" fill="#c0c0c0"/>
<rect x="473" y="420" width="3" height="12" fill="#c0c0c0"/>
<rect x="481" y="420" width="3" height="10" fill="#c0c0c0"/>
<rect x="489" y="420" width="3" height="8" fill="#c0c0c0"/>
<rect x="497" y="420" width="3" height="8" fill="#c0c0c0"/>
<rect x="505" y="420" width="3" height="9" fill="#c0c0c0"/>
<rect x="513" y="420" width="3" height="9" fill="#c0c0c0"/>
<rect x="521" y="420" width="3" height="5" fill="#c0c0c0"/>
<rect x="529" y="420" width="3" height="9" fill="#c0c0c0"/>
<rect x="537" y="420" width="3" height="9" fill="#c0c0c0"/>
<rect x="545" y="420" width="3" height="9" fill="#c0c0c0"/>
<rect x="553" y="420" width="3" height="9" fill="#c0c0c0"/>
<rect x="561" y="420" width="3" height="8" fill="#c0c0c0"/>
<rect x="569" y="420" width="3" height="10" fill="#c0c0c0"/>
<rect x="577" y="420" width="3" height="11" fill="#c0c0c0"/>
<rect x="585" y="420" width="3" height="11" fill="#c0c0c0"/>
<rect x="593" y="420" width="3" height="10" fill="#c0c0c0"/>
<rect x="601" y="420" width="3" height="9" fill="#c0c0c0"/>
<rect x="609" y="420" width="3" height="12" fill="#c0c0c0"/>
<rect x="617" y="420" width="3" height="17" fill="#c0c0c0"/>
<rect x="625" y="420" width="3" height="20" fill="#c0c0c0"/>
<rect x="633" y="420" width="3" height="22" fill="#c0c0c0"/>
<rect x="641" y="420" width="3" height="27" fill="#c0c0c0"/>
<rect x="649" y="420" width="3" height="32" fill="#c0c0c0"/>
<rect x="657" y="420" width="3" height="36" fill="#c0c0c0"/>
<rect x="665" y="420" width="3" height="36" fill="#c0c0c0"/>
<rect x="673" y="420" width="3" height="40" fill="#c0c0c0"/>
<rect x="681" y="420" width="3" height="42" fill="#c0c0c0"/>
<rect x="689" y="420" width="3" height="45" fill="#c0c0c0"/>
<rect x="697" y="420" width="3" height="47" fill="#c0c0c0"/>
<rect x="705" y="420" width="3" height="49" fill="#c0c0c0"/>
<rect x="713" y="420" width="3" height="50" fill="#c0c0c0"/>
<rect x="721" y="420" width="3" height="47" fill="#c0c0c0"/>
<rect x="729" y="420" width="3" height="44" fill="#c0c0c0"/>
<rect x="737" y="420" width="3" height="41" fill="#c0c0c0"/>
<rect x="745" y="420" width="3" height="37" fill="#c0c0c0"/>
<rect x="753" y="420" width="3" height="34" fill="#c0c0c0"/>
<rect x="761" y="420" width="3" height="32" fill="#c0c0c0"/>
<rect x="769" y="420" width="3" height="30" fill="#c0c0c0"/>
<rect x="777" y="420" width="3" height="28" fill="#c0c0c0"/>
<rect x="785" y="420" width="3" height="27" fill="#c0c0c0"/>
<rect x="793" y="420" width="3" height="26" fill="#c0c0c0"/>
<rect x="801" y="420" width="3" height="23" fill="#c0c0c0"/>
<rect x="809" y="420" width="3" height="22" fill="#c0c0c0"/>
<rect x="817" y="420" width="3" height="20" fill="#c0c0c0"/>
<rect x="825" y="420" width="3" height="18" fill="#c0c0c0"/>
<rect x="833" y="420" width="3" height="18" fill="#c0c0c0"/>
<rect x="841" y="420" width="3" height="18" fill="#c0c0c0"/>
<rect x="849" y="420" width="3" height="17" fill="#c0c0c0"/>
<rect x="857" y="420" width="3" height="15" fill="#c0c0c0"/>
<rect x="865" y="420" width="3" height="16" fill="#c0c0c0"/>
<rect x="873" y="420" width="3" height="17" fill="#c0c0c0"/>
<rect x="881" y="420" width="3" height="17" fill="#c0c0c0"/>
<rect x="889" y="420" width="3" height="15" fill="#c0c0c0"/>
<rect x="897" y="420" width="3" height="12" fill="#c0c0c0"/>
<rect x="905" y="420" width="3" height="10" fill="#c0c0c0"/>
<rect x="913" y="420" width="3" height="9" fill="#c0c0c0"/>
<rect x="1165" y="405" width="2" height="1" fill="#000"/>
<rect x="1165" y="420" width="2" height="1" fill="#000"/>
<rect x="1165" y="472" width="2" height="1" fill="#000"/>
</g>
<clipPath id="c2"><rect x="2" y="405" width="1162" height="68"/></clipPath>
<g clip-path="url(#c2)">
<path d="M2 431h6v1h-6zM8 432h2v1h-2zM10 433h13v1h-13zM23 434h17v1h-17zM40 435h16v1h-16zM56 436h40v1h-40zM96 435h5v1h-5zM101 434h6v1h-6zM107 433h7v1h-7zM114 432h6v1h-6zM120 431h5v1h-5zM125 430h3v1h-3zM128 429h3v1h-3zM131 428h3v1h-3zM134 427h3v1h-3zM137 426h3v1h-3zM140 425h3v1h-3zM143 424h3v1h-3zM146 423h3v1h-3zM149 422h3v1h-3zM152 421h3v1h-3zM155 420h2v1h-2zM157 419h3v1h-3zM160 418h3v1h-3zM163 417h4v1h-4zM167 416h4v1h-4zM171 415h4v1h-4zM175 414h6v1h-6zM181 413h7v1h-7zM188 412h7v1h-7zM195 411h21v1h-21zM216 412h16v1h-16zM232 413h5v1h-5zM237 414h5v1h-5zM242 415h5v1h-5zM247 416h5v1h-5zM252 417h6v1h-6zM258 418h5v1h-5zM263 419h3v1h-3zM266 420h4v1h-4zM270 421h4v1h-4zM274 422h3v1h-3zM277 423h4v1h-4zM281 424h3v1h-3zM284 425h4v1h-4zM288 426h5v1h-5zM293 427h4v1h-4zM297 428h6v1h-6zM303 429h7v1h-7zM310 430h6v1h-6zM316 431h4v1h-4zM320 432h5v1h-5zM325 433h5v1h-5zM330 434h5v1h-5zM335 435h6v1h-6zM341 436h4v1h-4zM345 437h4v1h-4zM349 438h5v1h-5zM354 439h6v1h-6zM360 440h6v1h-6zM366 441h4v1h-4zM370 442h4v1h-4zM374 443h4v1h-4zM378 444h5v1h-5zM383 445h7v1h-7zM390 446h7v1h-7zM397 447h18v1h-18zM415 448h17v1h-17zM432 447h6v1h-6zM438 446h7v1h-7zM445 445h6v1h-6zM451 444h6v1h-6zM457 443h5v1h-5zM462 442h4v1h-4zM466 441h4v1h-4zM470 440h4v1h-4zM474 439h4v1h-4zM478 438h4v1h-4zM482 437h4v1h-4zM486 436h4v1h-4zM490 435h4v1h-4zM494 434h4v1h-4zM498 433h4v1h-4zM502 432h5v1h-5zM507 431h6v1h-6zM513 430h5v1h-5zM518 429h6v1h-6zM524 428h18v1h-18zM542 427h35v1h-35zM577 428h24v1h-24zM601 429h16v1h-16zM617 430h8v1h-8zM625 431h7v1h-7zM632 432h6v1h-6zM638 433h4v1h-4zM642 434h2v1h-2zM644 435h3v1h-3zM647 436h3v1h-3zM650 437h3v1h-3zM653 438h3v1h-3zM656 439h3v1h-3zM659 440h4v1h-4zM663 441h3v1h-3zM666 442h2v1h-2zM668 443h2v1h-2zM670 444h2v1h-2zM672 445h3v1h-3zM675 446h2v1h-2zM677 447h2v1h-2zM679 448h3v1h-3zM682 449h2v1h-2zM684 450h3v1h-3zM687 451h2v1h-2zM689 452h3v1h-3zM692 453h3v1h-3zM695 454h3v1h-3zM698 455h2v1h-2zM700 456h3v1h-3zM703 457h2v1h-2zM705 458h3v1h-3zM708 459h2v1h-2zM710 460h3v1h-3zM713 461h5v1h-5zM718 462h4v1h-4zM722 463h5v1h-5zM727 464h23v1h-23zM750 463h5v1h-5zM755 462h5v1h-5zM760 461h5v1h-5zM765 460h6v1h-6zM771 459h3v1h-3zM774 458h3v1h-3zM777 457h3v1h-3zM780 456h4v1h-4zM784 455h4v1h-4zM788 454h3v1h-3zM791 453h3v1h-3zM794 452h3v1h-3zM797 451h3v1h-3zM800 450h3v1h-3zM803 449h4v1h-4zM807 448h4v1h-4zM811 447h4v1h-4zM815 446h4v1h-4zM819 445h4v1h-4zM823 444h4v1h-4zM827 443h5v1h-5zM832 442h6v1h-6zM838 441h7v1h-7zM845 440h6v1h-6zM851 439h8v1h-8zM859 438h8v1h-8zM867 437h8v1h-8zM875 436h17v1h-17zM892 435h9v1h-9zM901 434h8v1h-8zM909 433h5v1h-5z" fill="#ff0000" shape-rendering="crispEdges"/>
</g>
<text class="t" transform="translate(6.2 417) scale(1 1.07)" textLength="153.6" lengthAdjust="spacingAndGlyphs">MACD(12,26,9) -0.001489 -0.002524</text>
<text class="t" transform="translate(1168 414.4) scale(1 1.07)">0.002966</text>
<text class="t" transform="translate(1168 423.9) scale(1 1.07)">0.00</text>
<text class="t" transform="translate(1168.5 469.7) scale(1 1.07)">-0.010421</text>
<g shape-rendering="crispEdges">
<line x1="3" y1="497.5" x2="1164" y2="497.5" stroke="#c0c0c0" stroke-width="1" stroke-dasharray="3,3"/>
<line x1="3" y1="525.5" x2="1164" y2="525.5" stroke="#c0c0c0" stroke-width="1" stroke-dasharray="3,3"/>
</g>
<path d="M2 513h13v1h-13zM15 514h3v1h-3zM18 515h2v1h-2zM20 516h2v1h-2zM22 517h1v1h-1zM23 518h1v1h-1zM24 519h2v1h-2zM26 520h1v1h-1zM27 521h6v1h-6zM33 522h5v1h-5zM38 523h2v1h-2zM40 524h4v1h-4zM44 523h2v1h-2zM46 522h3v1h-3zM49 521h10v1h-10zM59 520h1v1h-1zM60 519h1v1h-1zM61 518h2v1h-2zM63 517h1v1h-1zM64 516h1v1h-1zM65 515h1v1h-1zM66 514h4v1h-4zM70 513h5v1h-5zM75 512h4v1h-4zM79 511h8v1h-8zM87 512h2v1h-2zM89 513h2v1h-2zM91 512h2v1h-2zM93 511h2v1h-2zM95 510h2v1h-2zM97 509h2v1h-2zM99 508h18v1h-18zM117 507h6v1h-6zM123 506h4v1h-4zM127 505h2v1h-2zM129 504h3v1h-3zM132 503h3v1h-3zM135 502h2v1h-2zM137 501h3v1h-3zM140 500h3v1h-3zM143 499h9v1h-9zM152 500h6v1h-6zM158 501h3v1h-3zM161 502h2v1h-2zM163 503h2v1h-2zM165 504h2v1h-2zM167 505h2v1h-2zM169 506h2v1h-2zM171 507h2v1h-2zM173 508h2v1h-2zM175 509h2v1h-2zM177 510h15v1h-15zM192 511h16v1h-16zM208 512h8v1h-8zM216 513h4v1h-4zM220 512h2v1h-2zM222 511h2v1h-2zM224 510h3v1h-3zM227 511h1v1h-1zM228 512h2v1h-2zM230 513h1v1h-1zM231 514h1v1h-1zM232 515h1v1h-1zM233 516h1v1h-1zM234 517h1v1h-1zM235 518h2v1h-2zM237 519h3v1h-3zM240 520h2v1h-2zM242 521h14v1h-14zM256 522h13v1h-13zM269 523h2v1h-2zM271 524h2v1h-2zM273 525h3v1h-3zM276 524h1v1h-1zM277 523h1v1h-1zM278 521h1v2h-1zM279 520h1v1h-1zM280 519h1v1h-1zM281 518h1v1h-1zM282 516h1v2h-1zM283 516h1v1h-1zM284 517h3v1h-3zM287 518h2v1h-2zM289 519h4v1h-4zM293 518h9v1h-9zM302 519h2v1h-2zM304 520h2v1h-2zM306 521h6v1h-6zM312 522h4v1h-4zM316 523h1v1h-1zM317 524h2v1h-2zM319 525h1v1h-1zM320 526h2v1h-2zM322 527h1v1h-1zM323 528h3v1h-3zM326 529h7v1h-7zM333 528h1v1h-1zM334 527h3v1h-3zM337 526h3v1h-3zM340 525h4v1h-4zM344 524h5v1h-5zM349 523h12v1h-12zM361 524h3v1h-3zM364 525h3v1h-3zM367 526h2v1h-2zM369 527h7v1h-7zM376 526h5v1h-5zM381 525h3v1h-3zM384 524h18v1h-18zM402 525h5v1h-5zM407 526h2v1h-2zM409 527h2v1h-2zM411 526h1v1h-1zM412 525h1v1h-1zM413 523h1v2h-1zM414 522h1v1h-1zM415 521h1v1h-1zM416 520h1v1h-1zM417 518h1v2h-1zM418 517h5v1h-5zM423 518h4v1h-4zM427 517h4v1h-4zM431 516h9v1h-9zM440 517h4v1h-4zM444 516h2v1h-2zM446 515h3v1h-3zM449 514h4v1h-4zM453 513h4v1h-4zM457 512h3v1h-3zM460 511h2v1h-2zM462 510h3v1h-3zM465 509h3v1h-3zM468 510h2v1h-2zM470 511h2v1h-2zM472 512h2v1h-2zM474 513h3v1h-3zM477 512h3v1h-3zM480 511h13v1h-13zM493 512h2v1h-2zM495 513h2v1h-2zM497 514h2v1h-2zM499 515h3v1h-3zM502 516h14v1h-14zM516 514h1v2h-1zM517 513h1v1h-1zM518 512h1v1h-1zM519 510h1v2h-1zM520 509h1v1h-1zM521 508h1v1h-1zM522 507h2v1h-2zM524 508h1v1h-1zM525 509h1v2h-1zM526 511h1v1h-1zM527 512h1v2h-1zM528 514h1v1h-1zM529 515h1v2h-1zM530 517h1v1h-1zM531 518h8v1h-8zM539 517h2v1h-2zM541 516h1v1h-1zM542 515h2v1h-2zM544 514h2v1h-2zM546 513h3v1h-3zM549 514h4v1h-4zM553 515h3v1h-3zM556 514h3v1h-3zM559 513h2v1h-2zM561 512h4v1h-4zM565 513h1v1h-1zM566 514h2v1h-2zM568 515h2v1h-2zM570 516h6v1h-6zM576 517h6v1h-6zM582 516h3v1h-3zM585 515h3v1h-3zM588 514h4v1h-4zM592 513h3v1h-3zM595 512h9v1h-9zM604 513h1v2h-1zM605 515h1v1h-1zM606 516h1v1h-1zM607 517h1v1h-1zM608 518h1v1h-1zM609 519h1v1h-1zM610 520h1v1h-1zM611 521h3v1h-3zM614 522h3v1h-3zM617 523h20v1h-20zM637 524h2v1h-2zM639 525h2v1h-2zM641 526h2v1h-2zM643 527h2v1h-2zM645 528h4v1h-4zM649 529h10v1h-10zM659 528h2v1h-2zM661 527h1v1h-1zM662 526h2v1h-2zM664 525h1v1h-1zM665 524h2v1h-2zM667 523h2v1h-2zM669 524h2v1h-2zM671 525h2v1h-2zM673 526h2v1h-2zM675 527h12v1h-12zM687 528h3v1h-3zM690 529h14v1h-14zM704 530h8v1h-8zM712 529h3v1h-3zM715 528h1v1h-1zM716 527h1v1h-1zM717 526h1v1h-1zM718 525h1v1h-1zM719 523h1v2h-1zM720 522h1v1h-1zM721 521h1v1h-1zM722 519h1v2h-1zM723 518h2v1h-2zM725 519h4v1h-4zM729 520h10v1h-10zM739 519h2v1h-2zM741 518h2v1h-2zM743 517h2v1h-2zM745 516h8v1h-8zM753 517h8v1h-8zM761 518h5v1h-5zM766 517h10v1h-10zM776 518h8v1h-8zM784 519h8v1h-8zM792 520h3v1h-3zM795 519h1v1h-1zM796 518h1v1h-1zM797 517h1v1h-1zM798 516h1v1h-1zM799 515h1v1h-1zM800 514h1v1h-1zM801 513h2v1h-2zM803 512h2v1h-2zM805 513h2v1h-2zM807 514h2v1h-2zM809 515h1v1h-1zM810 516h3v1h-3zM813 515h19v1h-19zM832 516h3v1h-3zM835 517h3v1h-3zM838 518h2v1h-2zM840 519h3v1h-3zM843 518h2v1h-2zM845 517h2v1h-2zM847 516h2v1h-2zM849 515h2v1h-2zM851 514h2v1h-2zM853 513h2v1h-2zM855 512h2v1h-2zM857 511h2v1h-2zM859 512h2v1h-2zM861 513h1v1h-1zM862 514h1v1h-1zM863 515h1v1h-1zM864 516h1v1h-1zM865 517h1v1h-1zM866 518h11v1h-11zM877 517h2v1h-2zM879 516h2v1h-2zM881 515h5v1h-5zM886 514h6v1h-6zM892 513h2v1h-2zM894 512h2v1h-2zM896 511h1v1h-1zM897 510h7v1h-7zM904 511h9v1h-9zM913 512h1v1h-1z" fill="#1e90ff" shape-rendering="crispEdges"/>
<text class="t" transform="translate(6 488) scale(1 1.07)">RSI(14) 49.2022</text>
<text class="t" transform="translate(1168.3 486.1) scale(1 1.07)">100</text>
<text class="t" transform="translate(1168.3 500.8) scale(1 1.07)">70</text>
<text class="t" transform="translate(1168.3 529) scale(1 1.07)">30</text>
<text class="t" transform="translate(1168.3 543.7) scale(1 1.07)">0</text>
<rect x="1165" y="477" width="2" height="1" fill="#000" shape-rendering="crispEdges"/>
<rect x="1165" y="546" width="2" height="1" fill="#000" shape-rendering="crispEdges"/>
<g shape-rendering="crispEdges">
<rect x="2" y="548" width="1" height="3" fill="#000"/>
<rect x="66" y="548" width="1" height="3" fill="#000"/>
<rect x="130" y="548" width="1" height="3" fill="#000"/>
<rect x="194" y="548" width="1" height="3" fill="#000"/>
<rect x="258" y="548" width="1" height="3" fill="#000"/>
<rect x="322" y="548" width="1" height="3" fill="#000"/>
<rect x="386" y="548" width="1" height="3" fill="#000"/>
<rect x="450" y="548" width="1" height="3" fill="#000"/>
<rect x="514" y="548" width="1" height="3" fill="#000"/>
<rect x="578" y="548" width="1" height="3" fill="#000"/>
<rect x="642" y="548" width="1" height="3" fill="#000"/>
<rect x="706" y="548" width="1" height="3" fill="#000"/>
<rect x="770" y="548" width="1" height="3" fill="#000"/>
<rect x="834" y="548" width="1" height="3" fill="#000"/>
<rect x="898" y="548" width="1" height="3" fill="#000"/>
</g>
<text class="t" transform="translate(1.5 560) scale(1 1.07)">13 Aug 2021</text>
<text class="t" transform="translate(65.5 560) scale(1 1.07)">23 Aug 2021</text>
<text class="t" transform="translate(129.5 560) scale(1 1.07)">1 Sep 2021</text>
<text class="t" transform="translate(193.5 560) scale(1 1.07)">10 Sep 2021</text>
<text class="t" transform="translate(257.5 560) scale(1 1.07)">20 Sep 2021</text>
<text class="t" transform="translate(321.5 560) scale(1 1.07)">29 Sep 2021</text>
<text class="t" transform="translate(385.5 560) scale(1 1.07)">8 Oct 2021</text>
<text class="t" transform="translate(449.5 560) scale(1 1.07)">18 Oct 2021</text>
<text class="t" transform="translate(513.5 560) scale(1 1.07)">27 Oct 2021</text>
<text class="t" transform="translate(577.5 560) scale(1 1.07)">5 Nov 2021</text>
<text class="t" transform="translate(641.5 560) scale(1 1.07)">15 Nov 2021</text>
<text class="t" transform="translate(705.5 560) scale(1 1.07)">24 Nov 2021</text>
<text class="t" transform="translate(769.5 560) scale(1 1.07)">3 Dec 2021</text>
<text class="t" transform="translate(833.5 560) scale(1 1.07)">13 Dec 2021</text>
<text class="t" transform="translate(897.5 560) scale(1 1.07)">22 Dec 2021</text>
<g shape-rendering="crispEdges">
<rect x="0" y="568" width="1203" height="1" fill="#e3e3e3"/>
<rect x="0" y="571" width="1203" height="19" fill="#f0f0f0"/>
<rect x="0" y="590" width="1203" height="1" fill="#ffffff"/>
<rect x="0" y="591" width="1203" height="3" fill="#f2f2f2"/>
<rect x="0" y="594" width="1203" height="1" fill="#a0a0a0"/>
<rect x="0" y="595" width="1203" height="2" fill="#ffffff"/>
<rect x="0" y="595" width="1" height="2" fill="#e4e4e4"/>
<rect x="108" y="595" width="1" height="2" fill="#e4e4e4"/>
<rect x="192" y="595" width="1" height="2" fill="#e4e4e4"/>
<rect x="300" y="595" width="1" height="2" fill="#e4e4e4"/>
<rect x="420" y="595" width="1" height="2" fill="#e4e4e4"/>
<rect x="540" y="595" width="1" height="2" fill="#e4e4e4"/>
<rect x="660" y="595" width="1" height="2" fill="#e4e4e4"/>
<rect x="0" y="570" width="1203" height="1" fill="#000"/>
<rect x="103" y="570" width="108" height="19" fill="#fff"/>
<rect x="103" y="570" width="1" height="19" fill="#000"/>
<rect x="210" y="570" width="1" height="19" fill="#000"/>
<rect x="103" y="588" width="108" height="1" fill="#000"/>
<rect x="104" y="570" width="106" height="1" fill="#fff"/>
<rect x="319" y="573" width="1" height="14" fill="#808080"/>
<rect x="415" y="573" width="1" height="14" fill="#808080"/>
<rect x="523" y="573" width="1" height="14" fill="#808080"/>
<rect x="635" y="573" width="1" height="14" fill="#808080"/>
<rect x="731" y="573" width="1" height="14" fill="#808080"/>
<rect x="835" y="573" width="1" height="14" fill="#808080"/>
<rect x="922" y="573" width="1" height="14" fill="#808080"/>
<rect x="1006" y="573" width="1" height="14" fill="#808080"/>
</g>
<text class="tab" transform="translate(14 585) scale(1 1.05)">USDX,Weekly</text>
<text class="tab" transform="translate(221 585) scale(1 1.05)">AUDUSD-,Daily</text>
<text class="tab" transform="translate(331.5 585) scale(1 1.05)">USDCHF-,H4</text>
<text class="tab" transform="translate(426.6 585) scale(1 1.05)">USDCAD-,Daily</text>
<text class="tab" transform="translate(535.7 585) scale(1 1.05)">USDCNH-,Daily</text>
<text class="tab" transform="translate(646 585) scale(1 1.05)">XAUUSD-,H1</text>
<text class="tab" transform="translate(742.5 585) scale(1 1.05)">UKOil-,Weekly</text>
<text class="tab" transform="translate(847.5 585) scale(1 1.05)">DJ30-,Daily</text>
<text class="tab" transform="translate(933.6 585) scale(1 1.05)">UK100-,H1</text>
<text class="tab" transform="translate(114.7 585) scale(1 1.05)" style="fill:#000;font-size:12px">EURUSD-,Daily</text>
<path d="M1180 579 L1183.5 576 L1183.5 582 Z" fill="#a0a0a0"/>
<path d="M1202.5 579 L1199 576 L1199 582 Z" fill="#a0a0a0"/>
</svg></body></html>
